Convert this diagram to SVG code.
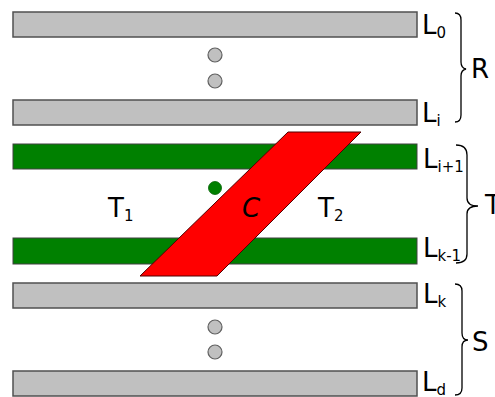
<svg xmlns="http://www.w3.org/2000/svg" width="495" height="397" viewBox="0 0 495 397">
<style>
.gray{fill:#c0c0c0;stroke:#505050;stroke-width:1.5}
.green{fill:#008000;stroke:#404040;stroke-width:1}
.dot{fill:#c0c0c0;stroke:#606060;stroke-width:1.2}
.brace{fill:none;stroke:#000;stroke-width:1.3}
text{font-family:"DejaVu Sans","Liberation Sans",sans-serif;font-size:26px;fill:#000}
.sub{font-size:15px}
</style>
<rect width="495" height="397" fill="#fff"/>
<g id="L0"><rect class="gray" x="13" y="12" width="404" height="25"/><text x="422" y="34">L<tspan class="sub" dy="4">0</tspan></text></g>
<g id="dotsR"><circle class="dot" cx="215" cy="55" r="7"/><circle class="dot" cx="215" cy="81" r="7"/></g>
<g id="Li"><rect class="gray" x="13" y="100" width="404" height="25"/><text x="422" y="122">L<tspan class="sub" dy="4">i</tspan></text></g>
<g id="Li1"><rect class="green" x="13" y="144" width="404" height="25"/><text x="423" y="168">L<tspan class="sub" dy="4">i+1</tspan></text></g>
<g id="Lk1"><rect class="green" x="13" y="238" width="404" height="26"/><text x="423" y="257">L<tspan class="sub" dy="4">k-1</tspan></text></g>
<g id="Lk"><rect class="gray" x="13" y="283" width="404" height="25"/><text x="423" y="303">L<tspan class="sub" dy="4">k</tspan></text></g>
<g id="dotsS"><circle class="dot" cx="215" cy="327" r="7"/><circle class="dot" cx="215" cy="352" r="7"/></g>
<g id="Ld"><rect class="gray" x="13" y="371" width="404" height="25"/><text x="422" y="391">L<tspan class="sub" dy="4">d</tspan></text></g>
<g id="gdot"><circle cx="215" cy="188" r="6.5" fill="#008000" stroke="#006000" stroke-width="0.8"/></g>
<g id="C"><polygon points="288,132 361,132 217,276 140,276" fill="#ff0000" stroke="#500000" stroke-width="1"/><text x="242" y="217" font-style="italic">C</text></g>
<g id="T1"><text x="108" y="217">T<tspan class="sub" dy="4">1</tspan></text></g>
<g id="T2"><text x="318" y="217">T<tspan class="sub" dy="4">2</tspan></text></g>
<g id="connectors">
<path class="brace" d="M455,13 Q461,13 461,20 L461,62 Q461,68 466,69 Q461,70 461,76 L461,115 Q461,122 455,122"/>
<path class="brace" d="M456,145 Q467,145 467,155 L467,198 Q467,206 478,206 Q467,206 467,214 L467,254 Q467,263 456,263"/>
<path class="brace" d="M455,284 Q462,284 462,291 L462,333 Q462,340 468,340 Q462,340 462,347 L462,388 Q462,395 455,395"/>
</g>
<g id="R"><text x="471" y="78">R</text></g>
<g id="T"><text x="485" y="214">T</text></g>
<g id="S"><text x="472" y="351">S</text></g>
</svg>
